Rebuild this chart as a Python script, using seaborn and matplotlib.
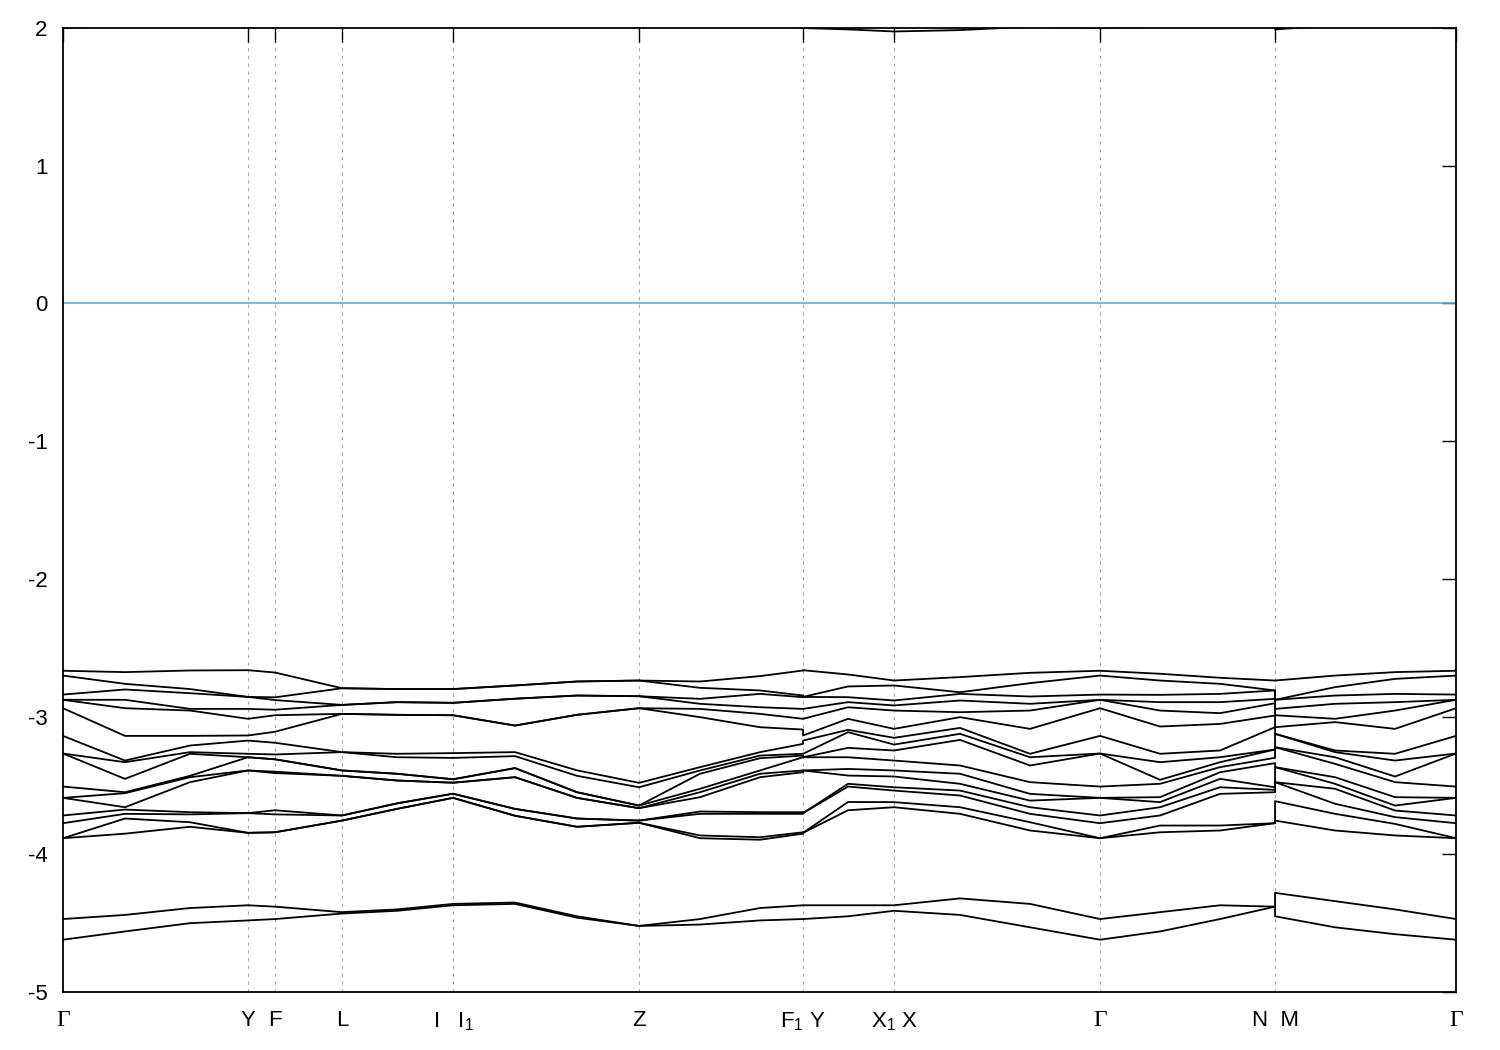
"""
Band structure plot (gnuplot style) re-drawn with seaborn.
Energies read off the original figure at the path nodes and a few points in between.
"""

import numpy as np
import pandas as pd
import matplotlib
matplotlib.use('Agg')
import matplotlib.pyplot as plt
import seaborn as sns

sns.set_style("white")
plt.rcParams['font.family'] = ['Liberation Sans', 'DejaVu Sans']
plt.rcParams['mathtext.fontset'] = 'custom'
plt.rcParams['mathtext.rm'] = 'Liberation Sans'
plt.rcParams['mathtext.it'] = 'Liberation Sans'
plt.rcParams['axes.unicode_minus'] = False

# ─────────────────────────────────────────────
# K-PATH
# ─────────────────────────────────────────────
NODE_POS = [0, 185, 212, 279, 390, 576, 740, 831, 1037, 1212, 1393]
NODE_LABELS = ['Γ', 'Y', 'F', 'L', 'I   I$_1$', 'Z', 'F$_1$ Y', 'X$_1$ X', 'Γ', 'N  M', 'Γ']

# sample points along the path (F1|Y and N|M appear twice: path jumps there)
K_POINTS = [0, 62, 127, 185, 212, 279, 334, 390, 452, 514, 576, 637, 697, 740,
            740, 785, 831, 897, 967, 1037, 1097, 1157, 1212, 1212, 1272, 1332, 1393]

# ─────────────────────────────────────────────
# VALENCE BANDS (-2.6 .. -3.9 eV), 16 values per k-point, sorted
# ─────────────────────────────────────────────
E_GAMMA = [-2.667, -2.702, -2.840, -2.878, -2.878, -2.939, -3.140, -3.268,
           -3.268, -3.508, -3.590, -3.590, -3.718, -3.774, -3.883, -3.883]
E_K01 = [-2.677, -2.762, -2.803, -2.878, -2.939, -3.140, -3.319, -3.331,
         -3.452, -3.549, -3.556, -3.658, -3.675, -3.706, -3.740, -3.850]
E_K02 = [-2.665, -2.800, -2.830, -2.944, -2.956, -3.140, -3.210, -3.258,
         -3.270, -3.430, -3.440, -3.476, -3.694, -3.710, -3.767, -3.800]
E_Y = [-2.663, -2.857, -2.857, -2.944, -3.016, -3.137, -3.174, -3.270,
       -3.295, -3.295, -3.391, -3.391, -3.701, -3.701, -3.844, -3.844]
E_F = [-2.680, -2.860, -2.880, -2.950, -2.990, -3.110, -3.190, -3.275,
       -3.310, -3.310, -3.400, -3.410, -3.680, -3.710, -3.840, -3.840]
E_L = [-2.794, -2.794, -2.915, -2.915, -2.980, -2.980, -3.258, -3.258,
       -3.391, -3.391, -3.430, -3.430, -3.718, -3.718, -3.755, -3.755]
E_K06 = [-2.800, -2.800, -2.895, -2.895, -2.987, -2.987, -3.270, -3.295,
         -3.415, -3.415, -3.464, -3.464, -3.630, -3.630, -3.670, -3.670]
E_I = [-2.800, -2.800, -2.900, -2.900, -2.990, -2.990, -3.265, -3.300,
       -3.455, -3.455, -3.480, -3.480, -3.560, -3.560, -3.590, -3.590]
E_K08 = [-2.774, -2.774, -2.870, -2.870, -3.065, -3.065, -3.258, -3.287,
         -3.374, -3.374, -3.440, -3.440, -3.670, -3.670, -3.720, -3.720]
E_K09 = [-2.745, -2.745, -2.847, -2.847, -2.987, -2.987, -3.390, -3.430,
         -3.549, -3.549, -3.590, -3.590, -3.740, -3.740, -3.800, -3.800]
E_Z = [-2.738, -2.738, -2.852, -2.852, -2.939, -2.939, -3.481, -3.513,
       -3.646, -3.646, -3.665, -3.665, -3.755, -3.755, -3.771, -3.771]
E_K11 = [-2.745, -2.791, -2.871, -2.907, -2.944, -3.004, -3.367, -3.391,
         -3.415, -3.524, -3.549, -3.585, -3.689, -3.706, -3.863, -3.883]
E_K12 = [-2.706, -2.810, -2.835, -2.932, -2.980, -3.077, -3.258, -3.283,
         -3.302, -3.391, -3.415, -3.440, -3.694, -3.706, -3.876, -3.894]
E_F1 = [-2.665, -2.847, -2.859, -2.944, -3.016, -3.094, -3.198, -3.270,
        -3.283, -3.295, -3.391, -3.404, -3.694, -3.706, -3.840, -3.850]
E_K15 = [-2.694, -2.781, -2.859, -2.895, -2.932, -3.016, -3.096, -3.113,
         -3.227, -3.295, -3.380, -3.428, -3.488, -3.508, -3.620, -3.680]
E_X = [-2.738, -2.774, -2.883, -2.919, -2.956, -3.089, -3.154, -3.203,
       -3.246, -3.319, -3.391, -3.435, -3.513, -3.537, -3.621, -3.658]
E_K17 = [-2.713, -2.823, -2.835, -2.883, -2.968, -3.004, -3.082, -3.125,
         -3.169, -3.355, -3.415, -3.488, -3.537, -3.573, -3.658, -3.706]
E_K18 = [-2.682, -2.757, -2.854, -2.907, -2.956, -3.089, -3.270, -3.295,
         -3.355, -3.476, -3.561, -3.610, -3.658, -3.706, -3.767, -3.827]
E_K20 = [-2.689, -2.738, -2.842, -2.895, -2.956, -3.072, -3.270, -3.331,
         -3.459, -3.488, -3.585, -3.621, -3.658, -3.718, -3.791, -3.840]
E_K21 = [-2.718, -2.762, -2.835, -2.895, -2.975, -3.053, -3.246, -3.295,
         -3.331, -3.367, -3.404, -3.452, -3.513, -3.561, -3.791, -3.827]
E_N = [-2.738, -2.810, -2.810, -2.871, -2.903, -2.992, -3.077, -3.239,
       -3.239, -3.299, -3.338, -3.513, -3.532, -3.549, -3.774, -3.774]
E_M = [-2.738, -2.878, -2.878, -2.944, -2.990, -3.077, -3.125, -3.125,
       -3.222, -3.222, -3.367, -3.367, -3.476, -3.476, -3.614, -3.755]
E_K24 = [-2.702, -2.786, -2.847, -2.907, -3.016, -3.040, -3.246, -3.258,
         -3.295, -3.343, -3.440, -3.488, -3.524, -3.633, -3.706, -3.827]
E_K25 = [-2.677, -2.726, -2.835, -2.895, -2.956, -3.089, -3.270, -3.319,
         -3.435, -3.476, -3.585, -3.646, -3.682, -3.730, -3.779, -3.863]

# ─────────────────────────────────────────────
# LOW PAIR (-4.3 .. -4.65 eV) AND CONDUCTION BAND EDGE (~2 eV)
# ─────────────────────────────────────────────
LOW_UPPER = [-4.47, -4.44, -4.39, -4.37, -4.38, -4.42, -4.40, -4.36, -4.35,
             -4.45, -4.52, -4.47, -4.39, -4.37, -4.37, -4.37, -4.37, -4.32,
             -4.36, -4.47, -4.42, -4.37, -4.38, -4.28, -4.34, -4.40, -4.47]
LOW_LOWER = [-4.62, -4.56, -4.50, -4.48, -4.47, -4.43, -4.41, -4.37, -4.36,
             -4.46, -4.52, -4.51, -4.48, -4.47, -4.47, -4.45, -4.41, -4.44,
             -4.53, -4.62, -4.56, -4.47, -4.38, -4.45, -4.53, -4.58, -4.62]
COND_BAND = [2.00, 2.02, 2.05, 2.06, 2.06, 2.06, 2.06, 2.06, 2.06, 2.06, 2.06,
             2.05, 2.02, 2.005, 2.00, 1.99, 1.975, 1.985, 2.01, 2.00, 2.01,
             2.03, 2.04, 1.99, 2.02, 2.02, 2.00]

VALENCE_COLS = [E_GAMMA, E_K01, E_K02, E_Y, E_F, E_L, E_K06, E_I, E_K08, E_K09,
                E_Z, E_K11, E_K12, E_F1, E_Y, E_K15, E_X, E_K17, E_K18, E_GAMMA,
                E_K20, E_K21, E_N, E_M, E_K24, E_K25, E_GAMMA]

# long-form table: one row per (band, k)
bands = np.array(VALENCE_COLS).T.tolist() + [LOW_UPPER, LOW_LOWER, COND_BAND]
rows = []
for b, energies in enumerate(bands):
    for step, (k, e) in enumerate(zip(K_POINTS, energies)):
        rows.append({'band': b, 'step': step, 'k': k, 'E': e})
df = pd.DataFrame(rows)

# ─────────────────────────────────────────────
# PLOT
# ─────────────────────────────────────────────
fig, ax = plt.subplots(figsize=(15, 10.5), dpi=100)
fig.subplots_adjust(left=0.042, right=0.9707, top=0.9733, bottom=0.0552)

for x in NODE_POS[1:-1]:
    ax.axvline(x, color='#a6a6a6', lw=0.8, ls=(0, (3, 4)), zorder=0)
ax.axhline(0, color='#4db3e6', lw=1.2, zorder=1)

sns.lineplot(data=df, x='k', y='E', units='band', estimator=None, sort=False,
             color='black', lw=1.3, legend=False, ax=ax, zorder=2,
             solid_joinstyle='round')

ax.set_xlim(NODE_POS[0], NODE_POS[-1])
ax.set_ylim(-5, 2)
ax.set_xlabel(""); ax.set_ylabel("")
ax.set_xticks(NODE_POS)
ax.set_xticklabels(NODE_LABELS)
ax.set_yticks(range(-5, 3))
ax.tick_params(axis='x', direction='in', length=10, width=1, top=True,
               pad=13, labelsize=16, colors='black')
ax.tick_params(axis='y', direction='in', length=10, width=1, right=True,
               pad=11, labelsize=16, colors='black')
for lbl in ax.get_xticklabels():
    if lbl.get_text() == 'Γ':
        lbl.set_fontfamily(['Liberation Serif', 'DejaVu Serif'])
        lbl.set_fontsize(17)
for sp in ax.spines.values():
    sp.set_color('black'); sp.set_linewidth(1.3)

plt.savefig("out.png", dpi=100)
plt.close()
